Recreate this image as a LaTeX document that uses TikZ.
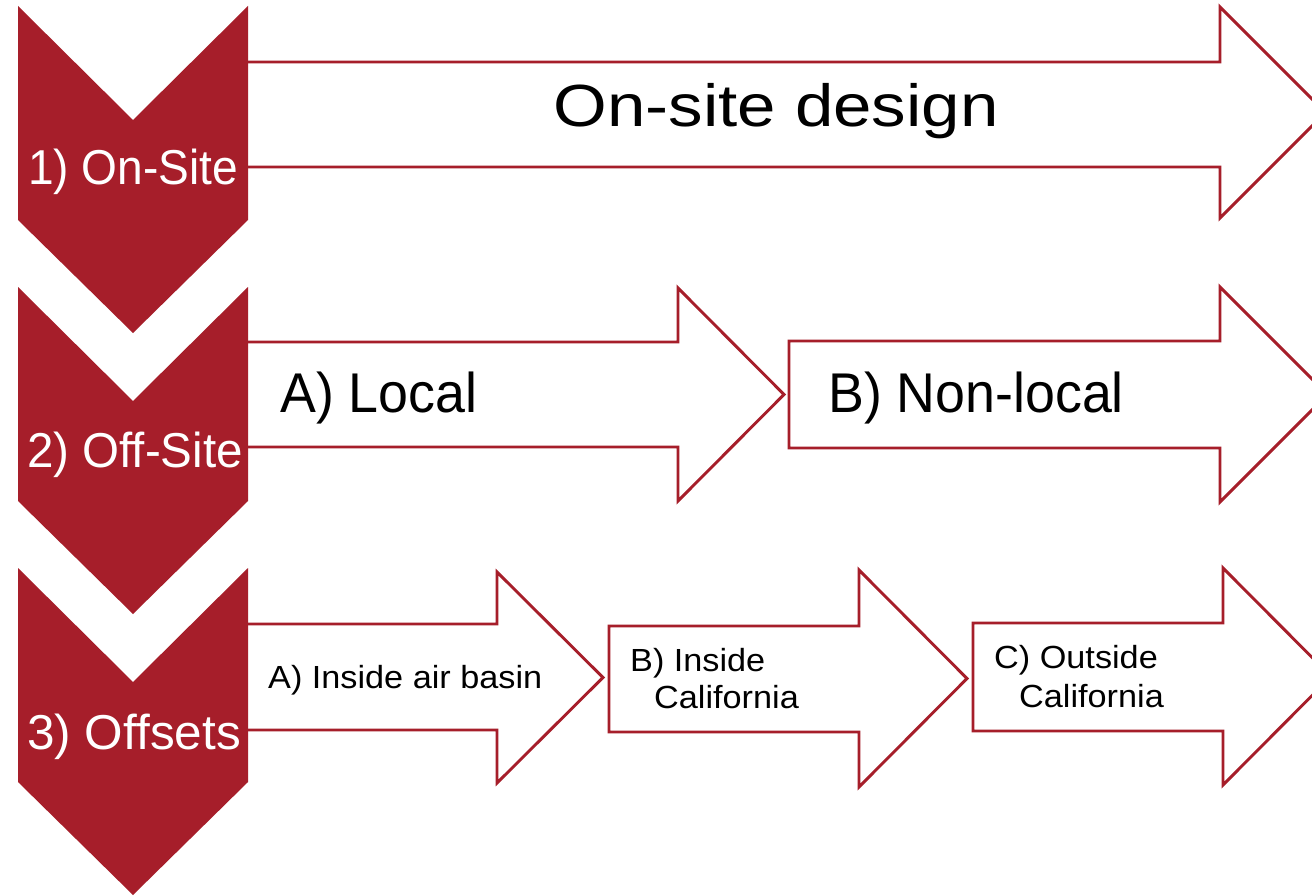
\documentclass[tikz,border=0pt]{standalone}
\usepackage{fontspec}
\setmainfont{Liberation Sans}
\definecolor{brick}{RGB}{166,30,42}
\begin{document}
\begin{tikzpicture}[x=1pt,y=-1pt,
  chevron/.style={fill=brick,draw=none},
  arrowbox/.style={draw=brick,fill=white,line width=2.9pt,line join=miter},
  steplabel/.style={text=white,inner sep=0pt,anchor=base,font=\fontsize{49}{58}\selectfont},
  biglabel/.style={inner sep=0pt,anchor=base,font=\fontsize{59.5}{70}\selectfont},
  midlabel/.style={inner sep=0pt,anchor=base west,font=\fontsize{56}{66}\selectfont},
  smalllabel/.style={inner sep=0pt,anchor=base west,font=\fontsize{32}{38}\selectfont}]
\clip (0,0) rectangle (1312,896);
\fill[white] (0,0) rectangle (1312,896);

% row 1: on-site
\draw[arrowbox] (246,62) -- (1220,62) -- (1220,7) -- (1325.5,112.5) -- (1220,218) -- (1220,167) -- (246,167) -- cycle;

% row 2: off-site
\draw[arrowbox] (246,342) -- (678,342) -- (678,288) -- (784,394.5) -- (678,501) -- (678,447) -- (246,447) -- cycle;
\draw[arrowbox] (789,341) -- (1220,341) -- (1220,287) -- (1327.5,394.5) -- (1220,502) -- (1220,448) -- (789,448) -- cycle;

% row 3: offsets
\draw[arrowbox] (246,624) -- (497,624) -- (497,572) -- (603,677.5) -- (497,783) -- (497,730) -- (246,730) -- cycle;
\draw[arrowbox] (609,626) -- (859,626) -- (859,570) -- (967,678.5) -- (859,787) -- (859,732) -- (609,732) -- cycle;
\draw[arrowbox] (973,623) -- (1223,623) -- (1223,568) -- (1331,676.5) -- (1223,785) -- (1223,731) -- (973,731) -- cycle;

% step chevrons
\fill[chevron] (18,6) -- (133,120) -- (248,6) -- (248,220) -- (133,333) -- (18,220) -- cycle;
\fill[chevron] (18,287) -- (133,401) -- (248,287) -- (248,501) -- (133,614) -- (18,501) -- cycle;
\fill[chevron] (18,568) -- (133,682) -- (248,568) -- (248,782) -- (133,895) -- (18,782) -- cycle;

% step labels
\node[steplabel] (s1) at (133,185) {\scalebox{0.94}[1]{1) On-Site}};
\node[steplabel] (s2) at (135,467) {\scalebox{0.97}[1]{2) Off-Site}};
\node[steplabel] (s3) at (134,749) {\scalebox{1.01}[1]{3) Offsets}};

% arrow labels
\node[biglabel] (design) at (776,127) {\scalebox{1.16}[1]{On-site design}};
\node[midlabel] (local) at (280,412) {\scalebox{0.96}[1]{A) Local}};
\node[midlabel] (nonlocal) at (828,412) {\scalebox{0.96}[1]{B) Non-local}};
\node[smalllabel] (basin) at (268,688) {\scalebox{1.07}[1]{A) Inside air basin}};
\node[smalllabel] (inca1) at (630,671) {\scalebox{1.07}[1]{B) Inside}};
\node[smalllabel] (inca2) at (654,708) {\scalebox{1.07}[1]{California}};
\node[smalllabel] (outca1) at (994,668) {\scalebox{1.07}[1]{C) Outside}};
\node[smalllabel] (outca2) at (1019,707) {\scalebox{1.07}[1]{California}};
\end{tikzpicture}
\end{document}
